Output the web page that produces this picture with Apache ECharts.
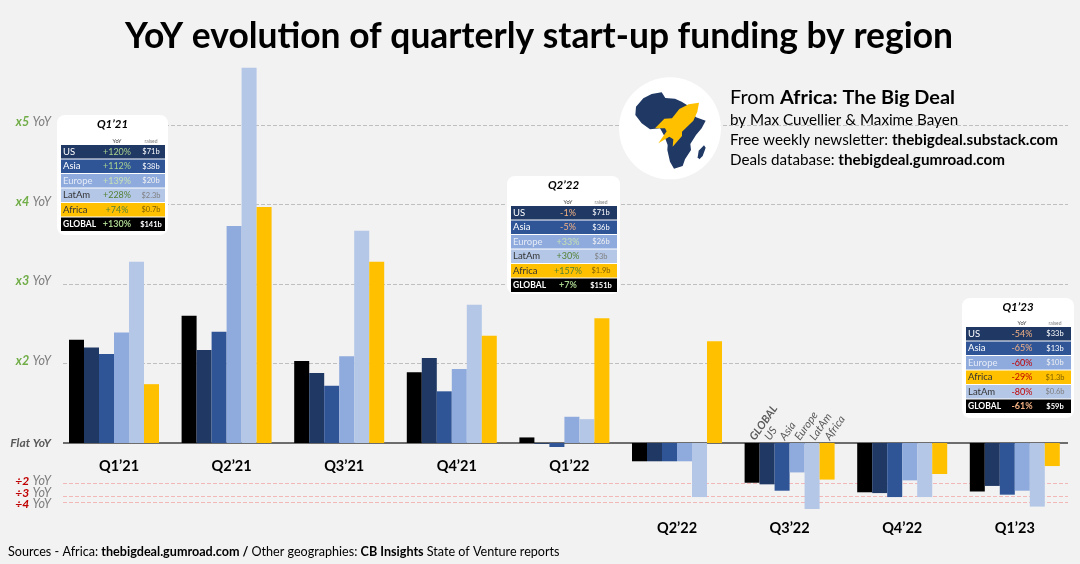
<!DOCTYPE html>
<html>
<head>
<meta charset="utf-8">
<title>YoY evolution of quarterly start-up funding by region</title>
<script src="https://cdn.jsdelivr.net/npm/echarts@6/dist/echarts.min.js"></script>
<style>
  html, body { margin: 0; padding: 0; background: #f2f2f2; }
  #chart { width: 1080px; height: 564px; }
</style>
</head>
<body>
<div id="chart"></div>
<script>
var FONT = 'Lato, "Noto Sans", sans-serif';

var quarters = ["Q1’21", "Q2’21", "Q3’21", "Q4’21", "Q1’22", "Q2’22", "Q3’22", "Q4’22", "Q1’23"];
var lowLabelFrom = 5; // from Q2'22 the quarter label sits below the bars

var globalYoy = [130, 160, 103, 89, 7, -23, -50, -62, -61];
var usYoy = [120, 117, 88, 107, -1, -23, -52, -63, -54];
var asiaYoy = [112, 140, 72, 65, -5, -23, -60, -68, -65];
var europeYoy = [139, 273, 109, 93, 33, -23, -37, -47, -60];
var latamYoy = [228, 472, 267, 174, 30, -68, -83, -68, -80];
var africaYoy = [74, 297, 228, 135, 157, 128, -46, -39, -29];

var regionNames = ["GLOBAL", "US", "Asia", "Europe", "LatAm", "Africa"];
var regionColors = ["#000000", "#1f3864", "#2f5597", "#8faadc", "#b4c7e7", "#ffc000"];
var regionValues = [globalYoy, usYoy, asiaYoy, europeYoy, latamYoy, africaYoy];
var nameTagQuarter = 6; // region names are written over Q3'22

// horizontal guides
var upLevels = [100, 200, 300, 400];
var upLabels = ["x2", "x3", "x4", "x5"];
var downLevels = [-50, -66.7, -75];
var downLabels = ["÷2", "÷3", "÷4"];

// small tables
var q121Rows = ["US", "Asia", "Europe", "LatAm", "Africa", "GLOBAL"];
var q121Yoy = ["+120%", "+112%", "+139%", "+228%", "+74%", "+130%"];
var q121Raised = ["$71b", "$38b", "$20b", "$2.3b", "$0.7b", "$141b"];
var q222Rows = ["US", "Asia", "Europe", "LatAm", "Africa", "GLOBAL"];
var q222Yoy = ["-1%", "-5%", "+33%", "+30%", "+157%", "+7%"];
var q222Raised = ["$71b", "$36b", "$26b", "$3b", "$1.9b", "$151b"];
var q123Rows = ["US", "Asia", "Europe", "Africa", "LatAm", "GLOBAL"];
var q123Yoy = ["-54%", "-65%", "-60%", "-29%", "-80%", "-61%"];
var q123Raised = ["$33b", "$13b", "$10b", "$1.3b", "$0.6b", "$59b"];

var rowStyles = {
    US: { bg: "#1f3864", name: "#ffffff", up: "#a9d18e", down: "#f4b183", raised: "#ffffff" },
    Asia: { bg: "#2f5597", name: "#ffffff", up: "#a9d18e", down: "#f4b183", raised: "#ffffff" },
    Europe: { bg: "#8faadc", name: "#e4ebf7", up: "#c5e0b4", down: "#c00000", raised: "#f2f2f2" },
    LatAm: { bg: "#b4c7e7", name: "#333333", up: "#548235", down: "#c00000", raised: "#7f7f7f" },
    Africa: { bg: "#ffc000", name: "#333333", up: "#548235", down: "#c00000", raised: "#7f6000" },
    GLOBAL: { bg: "#000000", name: "#ffffff", up: "#a9d18e", down: "#f4b183", raised: "#ffffff" }
};

function makeCard(title, rows, yoy, raised, box) {
    var els = [];
    els.push({
        type: "rect", z: 60,
        shape: { x: box.left, y: box.top, width: box.right - box.left, height: box.bottom - box.top, r: 8 },
        style: { fill: "#ffffff" }
    });
    els.push({
        type: "text", z: 61,
        style: { x: (box.left + box.right) / 2, y: box.top + 9, text: title, align: "center", verticalAlign: "middle",
            font: "italic bold 11.5px " + FONT, fill: "#000000" }
    });
    var rowLeft = box.left + 4, rowRight = box.right - 3;
    els.push({
        type: "text", z: 61,
        style: { x: box.yoyX, y: box.rowTop - 4, text: "YoY", align: "center", verticalAlign: "middle",
            font: "5.5px " + FONT, fill: "#404040" }
    });
    els.push({
        type: "text", z: 61,
        style: { x: box.raisedX, y: box.rowTop - 4, text: "raised", align: "center", verticalAlign: "middle",
            font: "5px " + FONT, fill: "#7f7f7f" }
    });
    for (var i = 0; i < rows.length; i++) {
        var st = rowStyles[rows[i]];
        var y = box.rowTop + i * 14.5;
        var mid = y + 6.8;
        var isGlobal = rows[i] == "GLOBAL";
        els.push({
            type: "rect", z: 61,
            shape: { x: rowLeft, y: y, width: rowRight - rowLeft, height: 13.6 },
            style: { fill: st.bg }
        });
        els.push({
            type: "text", z: 62,
            style: { x: rowLeft + 2, y: mid, text: rows[i], align: "left", verticalAlign: "middle",
                font: (isGlobal ? "bold 8.5px " : "9.5px ") + FONT, fill: st.name }
        });
        els.push({
            type: "text", z: 62,
            style: { x: box.yoyX, y: mid, text: yoy[i], align: "center", verticalAlign: "middle",
                font: (isGlobal ? "bold " : "") + "9px " + FONT,
                fill: yoy[i].charAt(0) == "+" ? st.up : st.down }
        });
        els.push({
            type: "text", z: 62,
            style: { x: box.raisedX, y: mid, text: raised[i], align: "center", verticalAlign: "middle",
                font: (isGlobal ? "bold " : "") + "7.5px " + FONT, fill: st.raised }
        });
    }
    return els;
}

// logo, drawn in the coordinates of a 3x crop then scaled down
var africaOutline = [[100, 85], [125, 72], [155, 67], [166, 84], [195, 86], [215, 95], [232, 106], [245, 128], [258, 142], [287, 152],
    [275, 175], [258, 195], [241, 222], [243, 240], [225, 268], [218, 288], [192, 296], [180, 275], [172, 240], [173, 225], [163, 198],
    [150, 175], [120, 178], [95, 160], [76, 135], [78, 110]];
var madagascar = [[282, 226], [287, 233], [278, 258], [268, 268], [263, 262], [266, 242]];
var rocket = [[267, 98], [236, 103], [208, 117], [186, 145], [163, 146], [135, 175], [165, 175], [170, 184], [145, 220], [178, 200],
    [190, 208], [188, 230], [216, 198], [216, 185], [250, 152], [262, 125]];

var logo = {
    type: "group", x: 610, y: 70, scaleX: 1 / 3, scaleY: 1 / 3, z: 40,
    children: [
        { type: "circle", z: 40, shape: { cx: 180, cy: 175, r: 153 }, style: { fill: "#ffffff" } },
        { type: "polygon", z: 41, shape: { points: africaOutline }, style: { fill: "#1f3864" } },
        { type: "polygon", z: 41, shape: { points: madagascar }, style: { fill: "#1f3864" } },
        { type: "polygon", z: 42, shape: { points: rocket }, style: { fill: "#ffc000" } }
    ]
};

function textLine(x, y, text, rich) {
    return { type: "text", z: 45, style: { x: x, y: y, text: text, align: "left", verticalAlign: "middle", rich: rich } };
}

var infoRich = {
    big: { fontFamily: FONT, fontSize: 19.9, color: "#595959" },
    bigB: { fontFamily: FONT, fontSize: 19.9, fontWeight: "bold", color: "#404040" },
    n: { fontFamily: FONT, fontSize: 15.2, color: "#595959" },
    b: { fontFamily: FONT, fontSize: 15.2, fontWeight: "bold", color: "#404040" }
};
var footRich = {
    n: { fontFamily: FONT, fontSize: 12.6, color: "#595959" },
    b: { fontFamily: FONT, fontSize: 12.6, fontWeight: "bold", color: "#404040" }
};

var graphics = [logo,
    textLine(730, 98, "{big|From }{bigB|Africa: The Big Deal}", infoRich),
    textLine(730, 120, "{n|by Max Cuvellier & Maxime Bayen}", infoRich),
    textLine(730, 140, "{n|Free weekly newsletter: }{b|thebigdeal.substack.com}", infoRich),
    textLine(730, 160, "{n|Deals database: }{b|thebigdeal.gumroad.com}", infoRich),
    textLine(8, 552, "{n|Sources - Africa: }{b|thebigdeal.gumroad.com / }{n|Other geographies: }{b|CB Insights }{n|State of Venture reports}", footRich)
].concat(
    makeCard("Q1’21", q121Rows, q121Yoy, q121Raised, { left: 57, right: 168, top: 115, bottom: 235, rowTop: 145, yoyX: 117, raisedX: 151 }),
    makeCard("Q2’22", q222Rows, q222Yoy, q222Raised, { left: 507, right: 620, top: 176, bottom: 294, rowTop: 206, yoyX: 568, raisedX: 601 }),
    makeCard("Q1’23", q123Rows, q123Yoy, q123Raised, { left: 962, right: 1074, top: 298, bottom: 418, rowTop: 327, yoyX: 1022, raisedX: 1055 })
);

function guide(level, text, lineColor, width, type, labelShift) {
    return [
        {
            x: 63, yAxis: level,
            lineStyle: { color: lineColor, type: type, width: width },
            label: { show: true, position: "start", formatter: text, distance: 12, offset: [0, labelShift] }
        },
        { x: 1068, yAxis: level }
    ];
}

var guides = [];
upLevels.forEach(function (v, i) {
    guides.push(guide(v, "{up|" + upLabels[i] + "} {yoy|YoY}", "#bfbfbf", 1, "dashed", -3));
});
var downShift = [-2, -3, 1];
downLevels.forEach(function (v, i) {
    guides.push(guide(v, "{down|" + downLabels[i] + "} {yoy|YoY}", "#f2b8b8", 1, "dashed", downShift[i]));
});
guides.push(guide(0, "{flat|Flat YoY}", "#404040", 1.5, "solid", 0));

var guideRich = {
    up: { fontFamily: FONT, fontSize: 12.5, fontStyle: "italic", fontWeight: "bold", color: "#70ad47" },
    down: { fontFamily: FONT, fontSize: 12, fontStyle: "italic", fontWeight: "bold", color: "#c00000" },
    yoy: { fontFamily: FONT, fontSize: 12.5, fontStyle: "italic", color: "#7f7f7f" },
    flat: { fontFamily: FONT, fontSize: 12, fontStyle: "italic", fontWeight: "bold", color: "#595959" }
};

var series = regionNames.map(function (name, r) {
    var s = {
        name: name,
        type: "bar",
        barWidth: 15,
        barGap: 0,
        z: 5,
        itemStyle: { color: regionColors[r] },
        data: regionValues[r].map(function (v, q) {
            if (q != nameTagQuarter) return v;
            return {
                value: v,
                label: {
                    show: true,
                    position: "top",
                    distance: 4,
                    rotate: 55,
                    align: "left",
                    verticalAlign: "middle",
                    formatter: name,
                    fontFamily: FONT,
                    fontSize: 11,
                    fontStyle: "italic",
                    fontWeight: name == "GLOBAL" ? "bold" : "normal",
                    color: "#595959"
                }
            };
        })
    };
    if (r == 0) {
        s.markLine = {
            silent: true,
            symbol: "none",
            z: 2,
            animation: false,
            label: { rich: guideRich },
            data: guides
        };
    }
    return s;
});

var option = {
    backgroundColor: "#f2f2f2",
    animation: false,
    title: {
        text: "YoY evolution of quarterly start-up funding by region",
        left: 534,
        top: 14,
        textAlign: "center",
        textStyle: { fontFamily: FONT, fontSize: 35.4, fontWeight: "bold", color: "#000000" }
    },
    grid: { left: 57.7, right: 8.9, top: 45.5, bottom: 41.5, outerBoundsMode: "none" },
    xAxis: {
        type: "category",
        data: quarters,
        offset: -79.5, // the labels hang from the flat line, not the grid bottom
        axisLine: { show: false, onZero: false },
        axisTick: { show: false },
        axisLabel: {
            interval: 0,
            margin: 16,
            formatter: function (value, idx) {
                return (idx >= lowLabelFrom ? "{low|" : "{high|") + value + "}";
            },
            rich: {
                high: { fontFamily: FONT, fontSize: 14.5, fontWeight: "bold", color: "#000000", padding: [0, 0, 0, 10] },
                low: { fontFamily: FONT, fontSize: 14.5, fontWeight: "bold", color: "#000000", padding: [62, 0, 0, 0] }
            }
        }
    },
    yAxis: { type: "value", min: -100, max: 500, show: false, splitLine: { show: false } },
    series: series,
    graphic: { elements: graphics }
};

var chart = echarts.init(document.getElementById("chart"));
chart.setOption(option);
</script>
</body>
</html>
